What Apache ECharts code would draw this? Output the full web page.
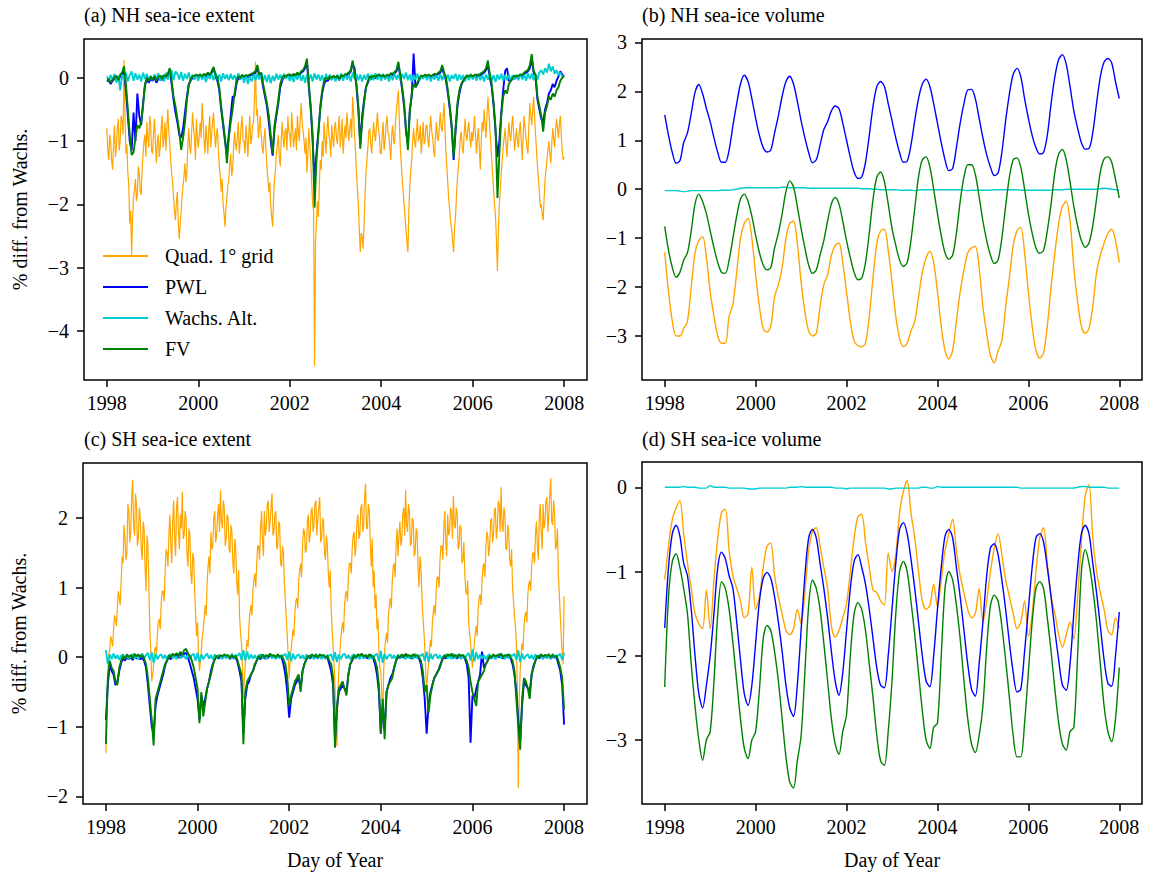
<!DOCTYPE html>
<html><head><meta charset="utf-8">
<script src="https://cdn.jsdelivr.net/npm/echarts@6/dist/echarts.min.js"></script>
<style>html,body{margin:0;padding:0;background:#fff}#c{width:1149px;height:878px}</style>
</head><body><div id="c"></div>
<script>
// ---------- labels ----------
const YEAR_TICKS = [1998, 2000, 2002, 2004, 2006, 2008];
const SERIES_NAMES = ['Quad. 1° grid', 'PWL', 'Wachs. Alt.', 'FV'];
const PANEL_TITLES = ['(a) NH sea-ice extent', '(b) NH sea-ice volume', '(c) SH sea-ice extent', '(d) SH sea-ice volume'];
const Y_TICKS_A = [-4, -3, -2, -1, 0];
const Y_TICKS_B = [-3, -2, -1, 0, 1, 2, 3];
const Y_TICKS_C = [-2, -1, 0, 1, 2];
const Y_TICKS_D = [-3, -2, -1, 0];

// ---------- (a) NH extent ----------
// Quad: 48 samples per year; others: 24 samples per year (1998.0 .. 2008.0)
const nhExtQuad = [
-0.80,-1.15,-1.30,-0.90,-1.00,-1.30,-1.45,-1.05,-0.75,-1.25,-1.10,-0.80,-0.65,-1.15,-1.00,-0.60,-0.70,-0.90,0.28,-0.60,-1.20,-1.05,-1.50,-1.70,-2.30,-2.10,-2.80,-2.20,-1.90,-1.75,-1.60,-1.95,-1.85,-1.40,-1.50,-1.80,-1.85,-1.45,-1.20,-1.00,-0.90,-1.25,-0.70,-0.95,-1.10,-0.60,-0.75,-1.15,
-1.20,-0.85,-0.65,-1.05,-1.35,-1.00,-0.90,-1.25,-1.10,-0.80,-0.60,-1.10,-0.95,-0.70,-1.15,-0.80,-0.50,-0.85,-1.05,-1.30,-1.50,-1.65,-1.90,-2.10,-2.25,-1.95,-1.80,-2.30,-2.55,-2.30,-2.10,-1.85,-1.70,-1.55,-1.35,-1.65,-1.50,-1.05,-0.80,-1.10,-1.20,-0.85,-0.55,-0.80,-0.95,-1.30,-0.65,-0.95,
-1.10,-0.90,-0.70,-0.95,-0.40,-0.65,-1.00,-1.20,-0.75,-0.95,-1.20,-0.80,-0.60,-1.10,-0.90,-0.70,-0.55,-0.85,-1.10,-0.90,-0.80,-1.15,-1.40,-1.55,-1.80,-1.60,-2.00,-2.15,-2.35,-2.05,-1.90,-1.70,-1.60,-1.35,-1.20,-1.55,-1.45,-1.10,-0.85,-1.05,-1.15,-0.90,-0.70,-1.20,-1.00,-0.75,-0.60,-1.00,
-1.00,-1.20,-0.75,-0.95,-1.25,-0.90,-0.60,-1.05,-0.95,-0.75,-0.70,-0.30,0.25,-0.60,-0.50,-0.95,-0.80,-0.60,-0.90,-1.10,-1.20,-0.95,-0.80,-1.15,-1.40,-1.60,-1.80,-1.65,-2.00,-2.20,-2.35,-1.90,-1.60,-1.45,-1.20,-1.05,-0.90,-1.25,-1.40,-1.00,-0.70,-0.95,-1.10,-0.85,-0.80,-1.15,-0.60,-0.85,
-0.90,-1.10,-0.55,-0.80,-1.10,-0.95,-0.80,-1.15,-0.60,-0.85,-1.00,-0.65,-0.40,-0.70,-0.85,-1.00,-1.20,-0.95,-1.50,-1.20,-0.80,-1.05,-1.30,-1.65,-2.00,-2.10,-4.55,-2.60,-2.30,-1.95,-2.20,-1.70,-1.30,-1.45,-1.00,-1.25,-0.70,-0.95,-1.20,-0.85,-0.60,-0.90,-1.00,-1.25,-0.75,-0.95,-1.10,-0.80,
-0.70,-0.95,-1.05,-0.80,-0.60,-1.10,-0.90,-0.65,-1.20,-0.95,-0.75,-0.95,-0.55,-0.80,-1.00,-0.80,-0.65,-0.95,-0.30,-0.55,-0.90,-1.15,-1.50,-1.75,-2.00,-2.40,-2.75,-2.45,-2.50,-2.70,-2.30,-1.85,-1.50,-1.30,-1.10,-0.85,-0.80,-1.05,-1.20,-0.90,-0.70,-0.90,-1.00,-0.75,-0.55,-0.80,-0.90,-1.20,
-1.20,-0.90,-0.70,-1.15,-1.00,-0.75,-0.60,-0.85,-0.90,-1.10,-1.30,-0.90,-0.75,-1.00,-1.05,-0.70,-0.50,-0.35,-0.20,-0.70,-1.10,-1.35,-1.60,-1.80,-2.00,-2.20,-2.40,-2.60,-2.75,-2.10,-1.70,-1.45,-1.30,-1.00,-0.80,-1.00,-1.10,-0.85,-0.65,-1.00,-0.95,-0.75,-1.20,-0.95,-0.70,-1.05,-1.00,-0.75,
-0.75,-1.00,-1.10,-0.80,-0.60,-0.85,-0.95,-1.15,-1.25,-0.90,-0.70,-0.95,-1.00,-0.75,-0.55,-0.80,-0.85,-0.60,-0.40,-0.85,-1.20,-1.45,-1.70,-1.95,-2.10,-2.30,-2.40,-2.60,-2.75,-2.35,-2.20,-1.85,-1.60,-1.40,-1.20,-0.95,-0.85,-1.10,-1.20,-0.90,-0.65,-0.90,-1.00,-0.80,-0.70,-0.95,-1.10,-0.85,
-1.00,-0.80,-0.60,-0.95,-1.20,-0.95,-0.80,-1.10,-1.45,-1.00,-0.70,-0.85,-0.50,-0.75,-0.95,-0.60,-0.30,-0.55,-0.80,-1.05,-1.30,-1.55,-1.80,-2.00,-2.20,-2.60,-3.05,-2.40,-2.00,-1.75,-1.50,-1.30,-1.10,-0.95,-0.80,-1.05,-1.25,-0.95,-0.70,-0.90,-1.00,-0.75,-0.60,-0.90,-1.15,-0.95,-0.80,-1.00,
-1.10,-0.85,-0.70,-1.00,-1.30,-0.90,-0.60,-0.80,-0.95,-1.10,-1.20,-0.75,-0.40,-0.60,-0.75,-0.50,-0.30,-0.65,-0.90,-1.15,-1.40,-1.60,-1.80,-2.05,-2.00,-2.15,-2.25,-1.90,-1.60,-1.45,-1.30,-1.15,-1.00,-1.20,-1.35,-1.05,-0.80,-0.95,-1.10,-0.85,-0.65,-0.80,-0.95,-0.75,-0.60,-0.90,-1.15,-1.30,
-1.25];
const nhExtPWL = [
-0.05,-0.05,-0.10,-0.05,-0.02,0.00,-0.05,0.02,0.05,0.12,-0.20,-0.60,-1.00,-1.15,-0.55,-1.00,-0.25,-0.60,-0.75,-0.40,-0.12,-0.03,-0.08,-0.02,
-0.05,0.00,-0.08,-0.02,0.01,-0.04,0.02,0.00,0.04,0.12,-0.10,-0.35,-0.55,-0.70,-0.90,-0.95,-0.80,-0.55,-0.30,-0.10,-0.05,0.00,0.01,0.03,
0.01,0.03,0.00,0.04,0.02,0.06,0.03,0.08,0.15,0.02,-0.05,-0.20,-0.50,-0.75,-1.00,-1.20,-0.90,-0.60,-0.30,-0.30,-0.10,0.00,-0.02,0.02,
0.00,0.02,0.01,0.03,0.04,0.06,0.08,0.15,0.02,0.05,-0.15,-0.30,-0.45,-0.70,-1.00,-1.23,-0.80,-0.60,-0.40,-0.15,-0.05,0.01,0.00,0.03,
0.03,0.01,0.04,0.02,0.06,0.03,0.08,0.10,0.15,0.25,-0.15,-0.50,-1.00,-1.60,-1.20,-0.85,-0.50,-0.25,-0.10,-0.05,-0.05,0.00,-0.02,0.01,
-0.02,0.01,-0.04,0.02,0.00,0.03,0.04,0.06,0.10,0.22,0.15,-0.15,-0.50,-1.05,-0.60,-0.35,-0.15,-0.08,0.00,-0.02,0.01,-0.01,0.02,0.03,
0.00,0.02,-0.01,0.03,0.01,0.05,0.04,0.07,0.10,0.20,0.03,-0.20,-0.45,-0.85,-1.05,-0.50,-0.30,0.38,-0.15,-0.10,-0.03,0.01,0.00,0.03,
0.01,0.03,0.00,0.02,0.04,0.03,0.06,0.08,0.15,0.05,-0.05,-0.25,-0.50,-0.80,-1.30,-0.85,-0.45,-0.25,-0.12,-0.05,-0.02,0.01,0.00,0.02,
0.00,0.02,0.03,0.01,0.04,0.06,0.08,0.12,0.20,0.00,-0.15,-0.45,-0.85,-1.25,-1.00,-0.55,-0.20,0.10,0.15,-0.05,-0.05,-0.02,0.01,0.00,
0.01,0.03,0.02,0.06,0.08,0.10,0.15,0.30,0.08,0.00,-0.35,-0.50,-0.65,-0.70,-0.50,-0.40,-0.25,-0.20,-0.10,-0.15,-0.05,0.02,0.10,0.05,
0.02];
const nhExtAlt = [
0.02,-0.05,0.04,-0.03,0.06,-0.08,0.03,-0.20,0.05,-0.04,0.08,-0.06,0.04,0.10,-0.05,0.07,-0.03,0.05,-0.06,0.08,-0.02,0.06,-0.05,0.03,
-0.04,0.05,-0.02,0.07,-0.05,0.04,-0.06,0.08,-0.03,0.05,0.12,-0.04,0.10,0.06,-0.03,0.09,-0.05,0.06,-0.02,0.08,-0.04,0.05,-0.03,0.04,
-0.05,0.06,-0.03,0.05,-0.07,0.04,-0.02,0.06,-0.04,0.08,-0.03,0.05,-0.06,0.07,-0.02,0.05,-0.04,0.06,-0.03,0.04,-0.05,0.07,-0.02,0.05,
-0.08,0.04,-0.10,0.02,-0.06,0.05,-0.04,0.06,-0.03,0.08,-0.05,0.04,-0.07,0.05,-0.09,0.03,-0.05,0.06,-0.03,0.05,-0.04,0.06,-0.02,0.04,
-0.05,0.03,-0.07,0.05,-0.03,0.06,-0.05,0.04,-0.08,0.06,-0.04,0.05,-0.06,0.07,-0.03,0.05,-0.05,0.04,-0.07,0.06,-0.03,0.05,-0.04,0.03,
-0.06,0.05,-0.04,0.07,-0.05,0.06,-0.03,0.05,-0.06,0.08,-0.02,0.06,-0.04,0.05,-0.06,0.04,-0.03,0.06,-0.05,0.05,-0.04,0.07,-0.03,0.04,
-0.05,0.06,-0.03,0.05,-0.06,0.04,-0.04,0.07,-0.03,0.05,-0.05,0.06,-0.02,0.08,-0.04,0.05,-0.06,0.04,-0.03,0.06,-0.05,0.04,-0.02,0.05,
-0.04,0.05,-0.06,0.04,-0.03,0.06,-0.05,0.05,-0.04,0.07,-0.03,0.05,-0.06,0.04,-0.02,0.06,-0.05,0.05,-0.03,0.04,-0.06,0.05,-0.04,0.06,
-0.03,0.05,-0.05,0.06,-0.04,0.04,-0.06,0.05,-0.03,0.07,-0.05,0.04,-0.07,0.05,-0.03,0.06,-0.05,0.04,-0.04,0.05,-0.06,0.04,-0.03,0.05,
-0.04,0.06,-0.03,0.05,-0.05,0.07,-0.02,0.06,-0.04,0.05,-0.03,0.08,0.12,0.05,0.15,0.08,0.22,0.10,0.18,0.06,0.12,0.04,0.08,0.02,
0.03];
const nhExtFV = [
-0.05,-0.02,-0.08,-0.03,0.00,0.03,-0.04,0.05,0.08,0.18,-0.10,-0.50,-0.90,-1.22,-1.18,-0.95,-0.75,-0.80,-0.70,-0.45,-0.10,0.00,-0.05,0.02,
-0.03,0.02,-0.05,0.01,0.03,-0.02,0.04,0.02,0.06,0.15,-0.05,-0.30,-0.45,-0.65,-0.85,-1.14,-0.95,-0.70,-0.35,-0.12,-0.02,0.02,0.03,0.05,
0.03,0.05,0.02,0.06,0.04,0.08,0.05,0.10,0.17,0.05,0.00,-0.15,-0.45,-0.70,-0.95,-1.35,-0.95,-0.70,-0.50,-0.25,-0.05,0.02,0.00,0.04,
0.02,0.04,0.03,0.05,0.06,0.08,0.10,0.20,0.05,0.08,-0.10,-0.25,-0.40,-0.60,-0.90,-1.20,-0.75,-0.55,-0.35,-0.10,0.00,0.03,0.02,0.05,
0.05,0.03,0.06,0.04,0.08,0.05,0.10,0.12,0.18,0.30,-0.10,-0.45,-0.90,-2.05,-1.30,-0.90,-0.45,-0.20,-0.05,0.00,-0.03,0.02,0.00,0.03,
0.00,0.03,-0.02,0.04,0.02,0.05,0.06,0.08,0.12,0.27,0.05,-0.10,-0.45,-1.12,-0.70,-0.40,-0.15,-0.05,0.02,0.00,0.03,0.01,0.04,0.05,
0.02,0.04,0.01,0.05,0.03,0.07,0.06,0.09,0.12,0.25,0.05,-0.15,-0.40,-0.80,-1.14,-0.55,-0.25,-0.10,-0.15,-0.08,0.00,0.03,0.02,0.05,
0.03,0.05,0.02,0.04,0.06,0.05,0.08,0.10,0.20,0.08,0.00,-0.20,-0.45,-0.75,-1.25,-0.80,-0.40,-0.20,-0.10,-0.05,0.00,0.03,0.02,0.04,
0.02,0.04,0.05,0.03,0.06,0.08,0.10,0.15,0.27,0.05,-0.10,-0.40,-0.80,-1.90,-1.20,-0.60,-0.30,-0.20,-0.25,-0.10,-0.05,0.00,0.03,0.02,
0.03,0.05,0.04,0.08,0.10,0.12,0.20,0.37,0.10,0.05,-0.30,-0.45,-0.60,-0.85,-0.55,-0.45,-0.30,-0.35,-0.25,-0.30,-0.20,-0.15,-0.05,0.00,
0.02];

// ---------- (b) NH volume, 12 samples per year ----------
const nhVolQuad = [
-1.29,-2.10,-2.70,-3.00,-3.00,-2.85,-2.70,-2.00,-1.30,-1.05,-0.97,-1.40,
-2.10,-2.60,-3.00,-3.15,-3.15,-2.60,-2.35,-1.70,-1.00,-0.70,-0.60,-1.00,
-1.75,-2.40,-2.85,-2.92,-2.80,-2.20,-1.95,-1.60,-1.00,-0.70,-0.65,-1.10,
-1.90,-2.50,-2.90,-3.00,-2.95,-2.40,-1.95,-1.75,-1.35,-1.15,-1.10,-1.50,
-2.10,-2.70,-3.10,-3.20,-3.22,-3.15,-2.60,-1.80,-1.10,-0.85,-0.82,-1.25,
-1.90,-2.60,-3.05,-3.22,-3.15,-2.90,-2.70,-2.20,-1.70,-1.40,-1.27,-1.50,
-2.10,-2.80,-3.30,-3.47,-3.30,-2.70,-2.10,-1.65,-1.30,-1.20,-1.17,-1.60,
-2.40,-2.95,-3.40,-3.55,-3.30,-3.10,-2.40,-1.80,-1.15,-0.85,-0.78,-1.30,
-2.10,-2.80,-3.30,-3.45,-3.35,-2.80,-2.00,-1.30,-0.70,-0.35,-0.25,-0.65,
-1.60,-2.30,-2.80,-2.95,-2.85,-2.40,-1.70,-1.35,-1.10,-0.90,-0.82,-1.05,
-1.50];
const nhVolPWL = [
1.52,1.10,0.75,0.53,0.58,0.95,1.15,1.55,1.98,2.14,1.95,1.65,
1.38,1.05,0.75,0.55,0.55,0.80,1.30,1.75,2.15,2.33,2.20,1.85,
1.45,1.10,0.85,0.76,0.80,1.15,1.50,1.90,2.20,2.31,2.15,1.80,
1.40,1.05,0.75,0.54,0.60,0.90,1.22,1.38,1.60,1.70,1.65,1.35,
1.00,0.65,0.35,0.22,0.25,0.55,1.10,1.70,2.10,2.20,2.10,1.75,
1.40,1.05,0.75,0.55,0.57,0.90,1.40,1.85,2.15,2.25,2.10,1.75,
1.35,0.95,0.60,0.38,0.42,0.85,1.35,1.75,2.03,2.04,1.85,1.45,
1.05,0.70,0.45,0.28,0.33,0.75,1.40,1.95,2.35,2.47,2.30,1.85,
1.45,1.10,0.85,0.72,0.75,1.10,1.75,2.30,2.65,2.75,2.55,2.10,
1.60,1.25,0.95,0.82,0.83,1.15,1.75,2.30,2.60,2.67,2.58,2.20,
1.85];
const nhVolAlt = [
-0.03,-0.03,-0.03,-0.03,-0.04,-0.05,-0.04,-0.03,-0.03,-0.03,-0.03,-0.03,
-0.03,-0.03,-0.03,-0.02,-0.02,-0.02,-0.01,0.00,0.02,0.03,0.03,0.03,
0.03,0.03,0.03,0.03,0.03,0.03,0.03,0.04,0.04,0.03,0.03,0.03,
0.03,0.03,0.02,0.02,0.02,0.02,0.02,0.02,0.02,0.02,0.02,0.02,
0.02,0.02,0.02,0.02,0.01,0.01,0.01,0.00,0.00,-0.01,-0.01,-0.01,
-0.01,-0.01,-0.02,-0.02,-0.02,-0.02,-0.03,-0.02,-0.01,-0.01,-0.01,-0.01,
-0.01,-0.01,-0.01,-0.01,-0.01,-0.01,-0.01,-0.02,-0.03,-0.02,-0.02,-0.02,
-0.02,-0.02,-0.02,-0.01,-0.01,-0.01,-0.01,-0.01,-0.01,-0.01,-0.02,-0.02,
-0.02,-0.02,-0.02,-0.02,-0.02,-0.02,-0.02,-0.01,-0.01,-0.01,0.00,0.00,
0.00,0.00,0.00,0.00,0.00,0.00,0.00,0.01,0.02,0.01,0.00,-0.01,
-0.02];
const nhVolFV = [
-0.76,-1.25,-1.60,-1.80,-1.70,-1.45,-1.30,-0.85,-0.30,-0.10,-0.25,-0.50,
-0.85,-1.20,-1.50,-1.70,-1.72,-1.45,-1.00,-0.55,-0.20,-0.10,-0.25,-0.55,
-0.95,-1.30,-1.55,-1.65,-1.60,-1.20,-0.90,-0.50,-0.05,0.17,0.05,-0.35,
-0.80,-1.20,-1.55,-1.72,-1.65,-1.35,-1.05,-0.65,-0.30,-0.17,-0.30,-0.65,
-1.05,-1.40,-1.70,-1.85,-1.82,-1.50,-0.90,-0.20,0.25,0.35,0.15,-0.30,
-0.80,-1.15,-1.45,-1.58,-1.50,-1.05,-0.40,0.25,0.60,0.66,0.45,0.00,
-0.50,-0.95,-1.30,-1.43,-1.35,-0.90,-0.25,0.25,0.50,0.50,0.30,-0.15,
-0.65,-1.05,-1.35,-1.52,-1.45,-1.00,-0.35,0.25,0.60,0.64,0.45,0.00,
-0.50,-0.90,-1.20,-1.31,-1.25,-0.85,-0.30,0.35,0.72,0.81,0.60,0.15,
-0.35,-0.75,-1.05,-1.19,-1.10,-0.75,-0.20,0.35,0.62,0.66,0.55,0.20,
-0.18];

// ---------- (c) SH extent ----------
// Quad: 48 samples per year; others: 24 samples per year
const shExtQuad = [
-1.38,-0.60,-0.30,0.05,0.10,0.30,0.25,0.15,0.40,0.60,0.55,0.45,0.70,0.95,0.85,0.75,1.10,1.45,1.35,1.90,1.70,1.40,1.50,2.20,2.10,1.65,1.80,2.30,2.55,1.90,1.75,2.35,2.20,1.60,1.70,2.15,2.00,1.55,1.40,1.95,1.85,1.30,0.95,1.75,1.60,1.00,0.40,0.10,
-0.35,-0.25,-0.10,0.10,0.15,0.05,0.35,0.50,0.55,0.40,0.80,0.95,0.95,0.80,1.20,1.55,1.50,1.30,1.75,2.05,1.60,1.35,2.00,2.25,1.70,1.45,2.15,2.30,1.80,1.55,2.05,1.85,2.38,1.70,1.75,2.10,2.00,1.45,1.30,1.85,1.75,1.20,1.05,1.50,1.40,0.95,0.60,0.30,
0.50,0.05,-0.20,-0.05,0.10,0.30,0.40,0.55,0.75,0.60,1.05,1.30,1.45,1.20,1.80,1.55,1.60,2.00,2.10,1.65,1.75,2.05,2.20,1.80,2.40,1.95,1.85,2.25,2.15,1.60,1.70,2.05,2.00,1.55,1.50,1.90,1.80,1.35,1.20,1.70,1.55,1.10,0.90,1.25,0.60,0.35,0.20,-0.10,
-0.60,-0.30,-0.10,0.10,0.25,0.15,0.50,0.65,0.75,0.60,0.95,1.10,1.20,1.00,1.35,1.60,1.60,1.40,1.85,2.10,1.70,1.45,2.10,1.75,1.85,2.20,2.25,1.80,1.95,2.15,2.35,1.75,1.80,2.05,2.10,1.55,1.60,1.95,1.90,1.35,1.30,1.60,1.50,1.05,0.80,0.55,0.30,0.00,
-0.30,-0.05,0.10,0.25,0.40,0.30,0.65,0.80,0.85,0.70,1.10,1.25,1.35,1.15,1.60,1.85,1.80,1.50,1.55,1.95,2.05,1.65,1.75,2.10,2.15,1.80,1.90,2.20,2.25,1.75,2.00,2.15,2.30,1.65,1.70,2.00,1.95,1.50,1.40,1.75,1.60,1.20,1.00,1.25,0.70,0.40,0.15,-0.10,
-0.40,-0.90,-1.28,-0.50,-0.20,0.05,0.25,0.40,0.50,0.35,0.75,0.90,0.95,0.80,1.15,1.35,1.35,1.20,1.55,1.75,1.80,1.45,1.60,1.95,2.05,1.70,1.75,2.15,2.20,1.80,1.90,2.30,2.49,1.85,1.85,2.20,2.10,1.60,1.30,1.70,1.00,1.25,0.70,0.90,0.40,0.55,0.10,-0.15,
-0.20,-0.50,-0.90,-0.20,0.10,0.25,0.35,0.20,0.60,0.75,0.85,0.70,1.10,1.30,1.35,1.15,1.60,1.85,1.45,1.75,1.95,1.60,1.70,2.05,2.15,1.75,2.40,1.90,1.80,2.20,2.10,1.60,1.65,2.00,1.95,1.45,1.50,1.85,1.80,1.30,1.00,1.45,1.30,0.90,0.60,0.40,0.15,-0.20,
-0.50,-0.25,-0.10,0.10,0.25,0.15,0.50,0.65,0.75,0.60,0.95,1.15,1.15,1.00,1.40,1.60,1.60,1.40,1.85,2.10,1.65,1.45,2.05,1.75,1.80,2.15,2.10,1.70,2.32,1.90,1.85,2.15,2.05,1.55,1.60,1.90,1.85,1.35,1.40,1.65,1.20,0.95,0.90,1.10,0.50,0.35,0.20,0.00,
-0.15,0.05,0.20,0.35,0.45,0.30,0.70,0.85,0.90,0.75,1.10,1.30,1.35,1.15,1.55,1.80,1.75,1.45,1.60,1.95,2.00,1.65,1.75,2.10,2.15,1.70,1.85,2.25,2.20,1.80,2.44,1.90,1.80,2.15,2.05,1.55,1.55,1.90,1.80,1.40,1.30,1.55,1.00,0.80,0.60,0.45,0.20,-0.40,
-1.88,-0.60,-0.20,0.05,0.20,0.10,0.45,0.60,0.65,0.50,0.90,1.05,1.10,0.95,1.30,1.50,1.50,1.35,1.75,1.95,1.60,1.40,2.00,2.20,1.80,1.55,2.20,1.85,1.95,2.25,2.30,1.80,2.05,2.35,2.57,1.95,1.90,2.25,2.10,1.55,1.60,1.85,1.20,0.90,0.60,0.30,0.05,-0.10,
0.87];
const shExtPWL = [
-0.90,-0.40,-0.10,-0.20,-0.25,-0.40,-0.35,-0.20,-0.08,-0.02,-0.05,0.00,-0.03,0.00,-0.04,0.01,-0.02,0.00,-0.03,-0.01,-0.05,-0.15,-0.40,-0.70,
-1.00,-1.10,-0.70,-0.55,-0.45,-0.35,-0.25,-0.12,-0.05,0.00,-0.03,0.02,0.00,0.03,-0.01,0.04,0.00,0.05,0.06,0.00,-0.10,-0.20,-0.30,-0.45,
-0.60,-0.90,-0.55,-0.70,-0.60,-0.45,-0.35,-0.20,-0.10,-0.03,0.00,-0.02,0.01,-0.01,0.02,0.00,0.01,-0.03,0.01,-0.02,0.00,-0.08,-0.20,-0.35,
-1.10,-0.60,-0.40,-0.35,-0.25,-0.20,-0.12,-0.05,0.00,-0.03,0.02,-0.02,0.01,-0.01,0.03,0.00,0.01,-0.02,0.02,-0.01,0.00,-0.10,-0.25,-0.50,
-0.87,-0.60,-0.50,-0.40,-0.35,-0.30,-0.45,-0.20,-0.10,-0.03,0.00,-0.02,0.02,-0.01,0.01,-0.02,0.02,0.00,0.01,-0.02,0.00,-0.10,-0.20,-0.40,
-1.20,-0.75,-0.50,-0.45,-0.40,-0.45,-0.50,-0.25,-0.10,-0.05,0.01,-0.02,0.02,0.00,0.03,-0.01,0.01,-0.02,0.02,0.00,-0.02,-0.10,-0.25,-0.50,
-1.10,-0.70,-1.05,-0.50,-0.40,-0.30,-0.25,-0.15,-0.05,0.00,-0.02,0.02,-0.01,0.03,0.00,0.01,-0.02,0.02,0.00,0.01,-0.02,-0.10,-0.30,-0.60,
-1.10,-0.70,-0.50,-0.40,-0.30,-0.25,-0.20,-0.12,-0.05,0.00,-0.02,0.02,0.00,0.03,-0.01,0.01,-0.02,0.02,0.00,0.01,-0.02,-0.10,-0.30,-1.23,
-0.55,-0.60,-0.45,-0.35,-0.25,0.08,-0.15,-0.10,-0.05,0.00,-0.02,0.02,-0.01,0.01,0.00,0.03,-0.02,0.01,0.00,0.02,-0.02,-0.10,-0.25,-0.50,
-0.90,-1.20,-0.70,-0.35,-0.40,-0.45,-0.50,-0.25,-0.12,-0.05,0.00,-0.02,0.02,-0.01,0.01,0.00,0.02,-0.02,0.01,-0.01,0.00,-0.10,-0.20,-0.40,
-0.97];
const shExtAlt = [
0.10,-0.10,0.04,-0.03,0.05,-0.02,0.03,-0.04,0.02,0.04,-0.02,0.03,-0.03,0.02,0.04,-0.02,0.03,-0.03,0.02,0.05,-0.02,0.03,0.06,-0.04,
0.07,-0.08,0.05,-0.03,0.02,0.04,-0.02,0.03,-0.03,0.02,0.04,-0.02,0.03,-0.03,0.05,-0.02,0.03,0.02,-0.03,0.04,-0.02,0.03,0.05,-0.05,
0.06,-0.07,0.04,-0.03,0.02,0.05,-0.02,0.03,-0.03,0.04,-0.02,0.03,0.02,-0.03,0.04,-0.02,0.03,-0.03,0.05,-0.02,0.03,0.02,0.06,-0.04,
0.10,-0.05,0.08,-0.03,0.04,-0.02,0.03,-0.03,0.02,0.04,-0.02,0.03,-0.03,0.02,0.05,-0.02,0.03,-0.03,0.04,-0.02,0.03,0.02,0.05,-0.04,
0.08,-0.06,0.05,-0.03,0.02,0.04,-0.02,0.03,-0.03,0.04,-0.02,0.03,0.02,-0.03,0.05,-0.02,0.03,-0.03,0.04,-0.02,0.03,0.02,0.04,-0.05,
0.07,-0.07,0.04,-0.03,0.03,0.05,-0.02,0.03,-0.03,0.02,0.04,-0.02,0.03,-0.03,0.05,-0.02,0.03,0.02,-0.03,0.04,-0.02,0.03,0.05,-0.06,
0.09,-0.08,0.05,-0.03,0.02,0.04,-0.02,0.03,-0.03,0.04,-0.02,0.03,0.02,-0.03,0.04,-0.02,0.03,-0.03,0.05,-0.02,0.03,0.02,0.05,-0.05,
0.08,-0.07,0.05,-0.03,0.03,0.04,-0.02,0.03,-0.03,0.02,0.04,-0.02,0.03,-0.03,0.05,-0.02,0.03,0.02,-0.03,0.04,-0.02,0.03,0.06,-0.05,
0.11,-0.06,0.07,-0.03,0.04,-0.02,0.03,-0.03,0.02,0.04,-0.02,0.03,-0.03,0.02,0.05,-0.02,0.03,-0.03,0.04,-0.02,0.03,0.02,0.05,-0.04,
0.10,-0.07,0.05,-0.03,0.02,0.04,-0.02,0.03,-0.03,0.04,-0.02,0.03,0.02,-0.03,0.04,-0.02,0.03,-0.03,0.05,-0.02,0.03,0.02,0.05,-0.04,
0.06];
const shExtFV = [
-1.25,-0.30,-0.05,-0.15,-0.20,-0.35,-0.40,-0.15,-0.05,0.02,-0.03,0.04,0.00,0.03,-0.02,0.05,0.01,0.04,0.00,0.03,-0.02,-0.10,-0.30,-0.60,
-0.90,-1.27,-0.60,-0.50,-0.40,-0.30,-0.20,-0.10,-0.05,0.03,0.00,0.05,0.02,0.06,0.01,0.08,0.03,0.10,0.12,0.05,0.02,-0.05,-0.15,-0.30,
-0.45,-0.95,-0.50,-0.85,-0.65,-0.45,-0.35,-0.25,-0.12,-0.03,0.02,0.00,0.03,0.01,0.04,0.02,0.03,-0.01,0.03,0.00,0.02,-0.05,-0.15,-0.25,
-1.25,-0.50,-0.35,-0.30,-0.25,-0.20,-0.10,-0.05,0.02,-0.02,0.04,0.00,0.03,0.01,0.05,0.02,0.03,0.00,0.04,0.01,0.02,-0.03,-0.10,-0.30,
-0.70,-0.55,-0.45,-0.35,-0.30,-0.25,-0.50,-0.20,-0.10,-0.03,0.02,0.00,0.04,0.01,0.03,0.00,0.04,0.02,0.03,0.00,0.02,-0.05,-0.10,-0.30,
-1.30,-0.70,-0.45,-0.40,-0.35,-0.45,-0.55,-0.25,-0.10,-0.03,0.03,0.00,0.04,0.02,0.05,0.01,0.03,0.00,0.04,0.02,0.01,-0.05,-0.15,-0.40,
-1.10,-0.60,-1.18,-0.50,-0.40,-0.35,-0.30,-0.15,-0.05,0.02,0.00,0.04,0.01,0.05,0.02,0.03,0.00,0.04,0.02,0.03,0.00,-0.05,-0.20,-0.50,
-0.40,-0.80,-0.55,-0.40,-0.30,-0.25,-0.20,-0.15,-0.05,0.02,0.00,0.04,0.02,0.05,0.01,0.03,0.00,0.04,0.02,0.03,0.00,-0.05,-0.15,-0.35,
-0.50,-0.60,-0.70,-0.35,-0.30,-0.25,-0.20,-0.10,-0.05,0.02,0.00,0.04,0.01,0.03,0.02,0.05,0.00,0.03,0.02,0.04,0.00,-0.05,-0.20,-0.60,
-1.00,-1.33,-0.60,-0.30,-0.35,-0.45,-0.60,-0.25,-0.15,-0.05,0.02,0.00,0.04,0.01,0.03,0.02,0.04,0.00,0.03,0.01,0.02,-0.05,-0.15,-0.30,
-0.75];

// ---------- (d) SH volume, 12 samples per year ----------
const shVolQuad = [
-1.10,-0.70,-0.38,-0.25,-0.16,-0.55,-0.90,-1.20,-1.50,-1.62,-1.68,-1.22,
-1.68,-1.10,-0.60,-0.30,-0.26,-0.75,-1.05,-1.20,-1.35,-1.55,-1.50,-0.95,
-1.45,-1.30,-0.95,-0.70,-0.66,-1.05,-1.30,-1.50,-1.70,-1.75,-1.68,-1.45,
-1.62,-1.25,-0.75,-0.52,-0.48,-0.70,-0.95,-1.20,-1.65,-1.78,-1.70,-1.55,
-1.38,-1.00,-0.60,-0.35,-0.32,-0.65,-0.95,-1.22,-1.25,-1.35,-1.40,-0.78,
-1.00,-0.80,-0.30,-0.05,0.08,-0.30,-0.60,-1.00,-1.35,-1.45,-1.40,-1.15,
-1.42,-1.10,-0.75,-0.55,-0.38,-0.75,-1.05,-1.25,-1.45,-1.55,-1.50,-1.20,
-1.60,-1.35,-1.00,-0.72,-0.55,-0.80,-1.10,-1.30,-1.50,-1.68,-1.60,-1.35,
-1.77,-1.50,-1.00,-0.60,-0.48,-0.90,-1.30,-1.50,-1.75,-1.90,-1.75,-1.60,
-1.80,-1.30,-0.65,-0.10,0.03,-0.60,-1.00,-1.25,-1.45,-1.70,-1.75,-1.55,
-1.67];
const shVolPWL = [
-1.67,-0.95,-0.55,-0.45,-0.58,-0.90,-1.05,-1.45,-2.00,-2.45,-2.62,-2.35,
-2.00,-1.50,-0.95,-0.77,-0.85,-1.05,-1.20,-1.60,-2.05,-2.45,-2.59,-2.35,
-1.85,-1.35,-1.08,-1.01,-1.08,-1.30,-1.60,-1.95,-2.35,-2.62,-2.72,-2.35,
-1.70,-1.05,-0.60,-0.50,-0.60,-0.90,-1.20,-1.55,-1.95,-2.30,-2.47,-2.20,
-1.70,-1.20,-0.88,-0.80,-0.95,-1.15,-1.45,-1.80,-2.15,-2.35,-2.38,-2.00,
-1.45,-0.90,-0.50,-0.42,-0.55,-0.85,-1.20,-1.60,-2.00,-2.30,-2.37,-2.00,
-1.45,-0.95,-0.58,-0.50,-0.60,-0.95,-1.30,-1.70,-2.10,-2.40,-2.48,-2.10,
-1.60,-1.05,-0.72,-0.67,-0.80,-1.10,-1.45,-1.85,-2.20,-2.43,-2.40,-1.95,
-1.45,-0.95,-0.60,-0.55,-0.65,-0.95,-1.30,-1.70,-2.05,-2.35,-2.41,-2.10,
-1.50,-0.95,-0.55,-0.45,-0.55,-0.90,-1.25,-1.65,-2.05,-2.33,-2.36,-2.00,
-1.48];
const shVolAlt = [
0.00,0.00,0.00,0.00,0.00,0.01,0.00,0.00,0.00,-0.01,-0.01,-0.01,
0.02,0.00,0.00,0.00,0.00,-0.01,-0.01,-0.01,-0.01,-0.01,-0.02,-0.02,
-0.02,-0.01,-0.01,-0.01,-0.01,-0.01,-0.01,-0.01,-0.01,0.00,0.00,0.00,
0.01,0.00,0.00,0.00,0.00,0.00,0.00,0.00,0.00,-0.01,-0.01,-0.01,
-0.02,-0.01,-0.01,-0.01,-0.01,-0.01,-0.01,-0.01,-0.01,-0.01,-0.01,-0.02,
-0.02,-0.01,-0.01,-0.01,-0.01,-0.01,-0.01,-0.01,0.00,0.00,-0.01,-0.01,
0.01,0.00,0.00,0.00,0.00,0.00,0.00,0.00,0.00,0.00,0.00,0.00,
0.00,0.00,0.00,0.00,0.00,0.00,0.00,0.00,0.00,0.00,-0.01,-0.01,
-0.01,-0.01,-0.01,-0.01,-0.01,-0.01,-0.01,-0.01,-0.01,-0.01,-0.01,-0.01,
-0.01,0.00,0.01,0.01,0.00,0.00,0.00,0.00,0.00,-0.01,-0.01,-0.01,
-0.01];
const shVolFV = [
-2.37,-1.30,-0.88,-0.79,-0.95,-1.20,-1.50,-2.10,-2.60,-3.00,-3.24,-3.00,
-2.90,-2.30,-1.50,-1.12,-1.20,-1.45,-1.85,-2.30,-2.75,-3.10,-3.22,-3.00,
-2.90,-2.40,-1.80,-1.64,-1.70,-1.95,-2.30,-2.75,-3.20,-3.50,-3.57,-3.25,
-2.95,-2.20,-1.40,-1.10,-1.20,-1.45,-1.85,-2.30,-2.75,-3.05,-3.17,-2.90,
-2.70,-2.00,-1.50,-1.37,-1.45,-1.70,-2.10,-2.50,-2.95,-3.25,-3.30,-2.90,
-2.30,-1.50,-1.00,-0.88,-1.00,-1.35,-1.75,-2.20,-2.65,-3.00,-3.10,-2.85,
-2.80,-2.00,-1.20,-1.00,-1.10,-1.40,-1.80,-2.30,-2.75,-3.05,-3.15,-2.95,
-2.60,-1.90,-1.40,-1.28,-1.35,-1.65,-2.05,-2.50,-2.95,-3.20,-3.20,-2.80,
-2.20,-1.60,-1.20,-1.12,-1.20,-1.55,-1.95,-2.40,-2.80,-3.05,-3.12,-2.90,
-2.85,-2.00,-1.00,-0.74,-0.90,-1.20,-1.60,-2.10,-2.60,-2.90,-3.02,-2.75,
-2.14];

// ---------- build ----------
const COLORS = ['#FFA500', '#0000FF', '#00CED1', '#008000'];
const FONT = 'Liberation Serif, Times New Roman, serif';
const PANEL_DATA = [
  [nhExtQuad, nhExtPWL, nhExtAlt, nhExtFV],
  [nhVolQuad, nhVolPWL, nhVolAlt, nhVolFV],
  [shExtQuad, shExtPWL, shExtAlt, shExtFV],
  [shVolQuad, shVolPWL, shVolAlt, shVolFV]
];
const Y_RANGES = [[-4.77, 0.61], [-3.90, 3.07], [-2.11, 2.79], [-3.76, 0.30]];
const Y_TICKS = [Y_TICKS_A, Y_TICKS_B, Y_TICKS_C, Y_TICKS_D];
const GRIDS = [
  {left: 84, top: 39, width: 503, height: 341},
  {left: 642, top: 39, width: 500, height: 341},
  {left: 83, top: 463, width: 504, height: 341},
  {left: 642, top: 462, width: 500, height: 342}
];
const TITLE_POS = [[84, 5], [642, 5], [84, 429], [642, 429]];
const IS_EXTENT = [true, false, true, false];

function toPairs(vals) {
  const step = 10 / (vals.length - 1);
  return vals.map((v, i) => [1998 + i * step, v]);
}
const minus = v => String(v).replace('-', '\u2212');
const tickStyle = {show: true, inside: false, length: 7, lineStyle: {color: '#000', width: 1.5}};

const option = {
  animation: false,
  backgroundColor: '#fff',
  textStyle: {fontFamily: FONT, color: '#000'},
  title: PANEL_TITLES.map((t, i) => ({
    text: t, left: TITLE_POS[i][0], top: TITLE_POS[i][1], padding: 0,
    textStyle: {fontFamily: FONT, fontSize: 20, fontWeight: 'normal', color: '#000'}
  })),
  legend: {
    data: SERIES_NAMES, orient: 'vertical', left: 103, top: 246, padding: 0,
    itemWidth: 45, itemHeight: 2, itemGap: 11, icon: 'rect',
    textStyle: {fontFamily: FONT, fontSize: 20, color: '#000', lineHeight: 20, padding: [0, 0, 0, 12]}
  },
  grid: GRIDS.map(g => Object.assign({show: true, borderColor: '#000', borderWidth: 1.5, backgroundColor: 'transparent'}, g)),
  xAxis: GRIDS.map((g, i) => ({
    type: 'value', gridIndex: i, min: 1997.5, max: 2008.5,
    name: i >= 2 ? 'Day of Year' : '', nameLocation: 'middle', nameGap: 46,
    nameTextStyle: {fontFamily: FONT, fontSize: 20, color: '#000'},
    axisLine: {show: false, onZero: false},
    axisTick: Object.assign({customValues: YEAR_TICKS}, tickStyle),
    axisLabel: {customValues: YEAR_TICKS, fontFamily: FONT, fontSize: 20, color: '#000', margin: 13, formatter: v => String(v)},
    splitLine: {show: false}
  })),
  yAxis: GRIDS.map((g, i) => ({
    type: 'value', gridIndex: i, min: Y_RANGES[i][0], max: Y_RANGES[i][1],
    name: (i % 2 === 0) ? '% diff. from Wachs.' : '', nameLocation: 'middle', nameGap: 54, nameRotate: 90,
    nameTextStyle: {fontFamily: FONT, fontSize: 20, color: '#000'},
    axisLine: {show: false, onZero: false},
    axisTick: Object.assign({customValues: Y_TICKS[i]}, tickStyle),
    axisLabel: {customValues: Y_TICKS[i], fontFamily: FONT, fontSize: 20, color: '#000', margin: 15, formatter: minus},
    splitLine: {show: false}
  })),
  series: []
};
PANEL_DATA.forEach((arrs, p) => {
  arrs.forEach((vals, k) => {
    const w = IS_EXTENT[p] ? (k === 0 ? 1.2 : 1.9) : 1.4;
    option.series.push({
      name: SERIES_NAMES[k], type: 'line', xAxisIndex: p, yAxisIndex: p,
      data: toPairs(vals), showSymbol: false, symbol: 'none', clip: true,
      smooth: IS_EXTENT[p] ? false : 0.3,
      color: COLORS[k], itemStyle: {color: COLORS[k]},
      lineStyle: {color: COLORS[k], width: w}, z: 2 + k
    });
  });
});
const chart = echarts.init(document.getElementById('c'), null, {renderer: 'svg', width: 1149, height: 878});
chart.setOption(option);
</script>
</body></html>
